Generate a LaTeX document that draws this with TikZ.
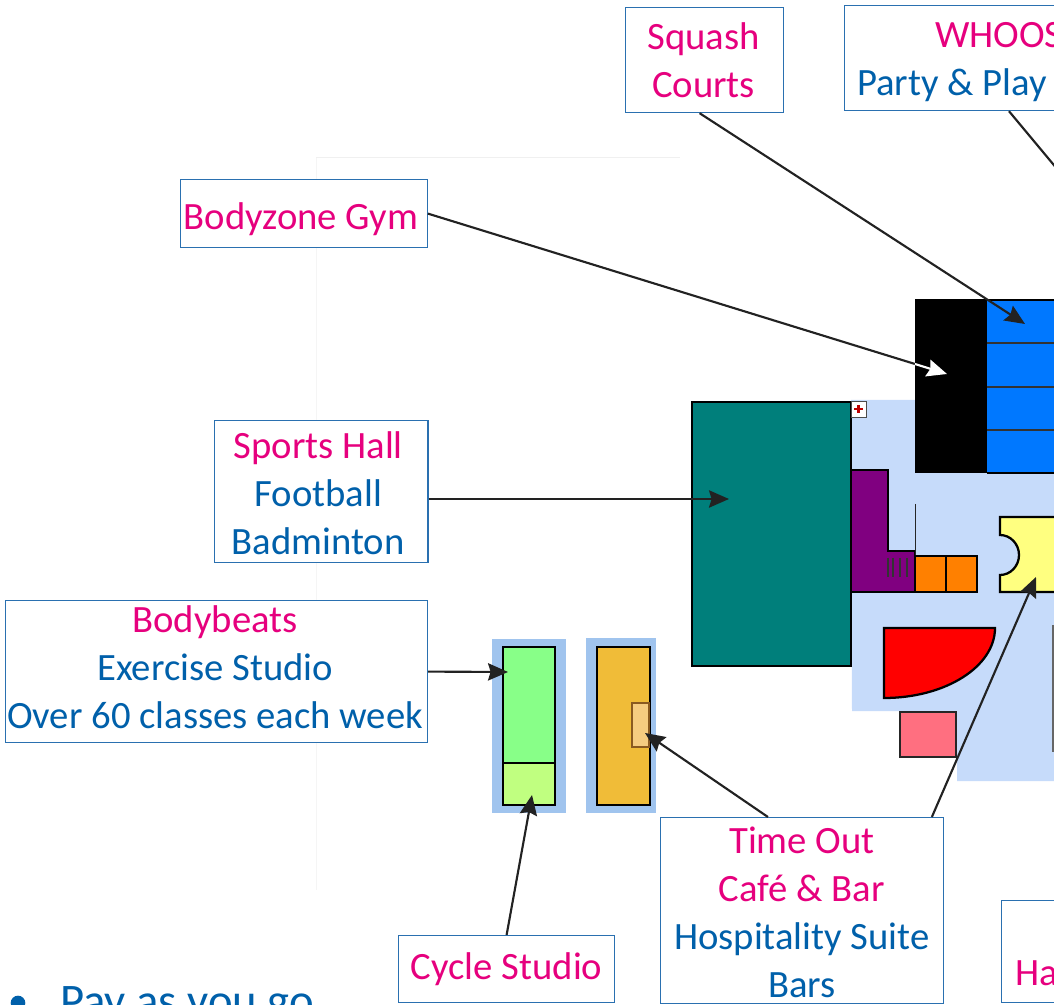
\documentclass[tikz,border=0pt]{standalone}
\usepackage{fontspec}
\setmainfont{Carlito}
\usetikzlibrary{arrows.meta,calc}
\definecolor{pinktext}{HTML}{E6007E}
\definecolor{bluetext}{HTML}{0060AA}
\definecolor{boxline}{HTML}{2A70B0}
\definecolor{floorblue}{HTML}{C6DBFA}
\definecolor{studioblue}{HTML}{A0C4EE}
\definecolor{hallteal}{HTML}{007F7B}
\definecolor{courtblue}{HTML}{0078FF}
\definecolor{darkline}{HTML}{222222}
\definecolor{roompurple}{HTML}{800080}
\definecolor{roomorange}{HTML}{FF8000}
\definecolor{deskyellow}{HTML}{FFFF80}
\definecolor{cafepink}{HTML}{FF6F80}
\definecolor{studiogreen}{HTML}{88FF88}
\definecolor{cyclegreen}{HTML}{C0FF80}
\definecolor{studiogold}{HTML}{F0BC38}
\definecolor{barsand}{HTML}{F5CC80}
\definecolor{barline}{HTML}{8A5A20}
\tikzset{
  callout/.style={draw=boxline,line width=0.9pt,fill=white,inner sep=0pt,anchor=north west},
  boxtext/.style={align=center,font=\fontsize{29}{36}\selectfont,inner sep=0pt},
  cuttext/.style={boxtext,anchor=west},
  pointer/.style={->,>={Stealth[length=15pt,width=13pt,inset=2pt]},darkline,line width=1.6pt},
  room/.style={draw=black,line width=1.7pt},
  studioroom/.style={draw=black,line width=2.1pt}
}
\newcommand{\pk}[1]{\textcolor{pinktext}{#1}}
\newcommand{\bl}[1]{\textcolor{bluetext}{#1}}
\begin{document}
\begin{tikzpicture}[x=0.75pt,y=-0.75pt]
   \useasboundingbox (0,0) rectangle (1054,1005);
   \clip (0,0) rectangle (1054,1005);

    % faint page edges
    \draw[black!4,line width=0.7pt] (316,890) -- (316,157);
    \draw[black!6,line width=0.7pt] (316,157) -- (680,157);

    % floor behind the rooms
    \fill[floorblue] (851,400) -- (915,400) -- (915,473) -- (1054,473) -- (1054,781) -- (957,781) -- (957,711) -- (852,711) -- cycle;

    % sports hall
    \draw[room,fill=hallteal] (692,402) rectangle (851,666);
    \draw[black!70,fill=white,line width=0.5pt] (851,401) rectangle (866,417);
    \draw[red!75!black,line width=1.6pt] (854,409) -- (863,409);
    \draw[red!75!black,line width=1.6pt] (858.5,405) -- (858.5,413);

    % gym and squash courts
    \fill[black] (915,300) rectangle (987,473);
    \fill[courtblue] (987,300) rectangle (1054,473);
    \draw[black,line width=1pt] (915,300) -- (1054,300);
    \draw[black,line width=1.2pt] (987,473) -- (1054,473);
    \foreach \y in {343,387,430}
        \draw[black!80,line width=1.2pt] (987,\y) -- (1054,\y);

    % changing rooms
    \draw[room,fill=roompurple] (851,470) -- (888,470) -- (888,551) -- (915,551) -- (915,592) -- (851,592) -- cycle;
    \foreach \x in {888,893,900,907}
        \draw[black!80,line width=1.3pt] (\x,558) -- (\x,577);
    \draw[black!85,line width=1pt] (915.5,504) -- (915.5,555);
    \draw[room,fill=roomorange] (915,556) rectangle (946,592);
    \draw[room,fill=roomorange] (946,556) rectangle (977,592);

    % reception desk
    \draw[room,fill=deskyellow] (1056,517) -- (1000,517) -- (1000,535) arc (-90:90:19 and 20) -- (1000,592) -- (1056,592);

    % cafe corner
    \draw[room,fill=red] (884,628) -- (995,628) arc (0:90:111 and 70) -- cycle;
    \draw[black!85,fill=cafepink,line width=1.2pt] (900,712) rectangle (956,757);
    \draw[black!60,line width=1.2pt] (1053,625) -- (1053,752);

    % studios
    \fill[studioblue] (492,639) rectangle (566,813);
    \draw[studioroom,fill=studiogreen] (503,647) rectangle (555,763);
    \draw[studioroom,fill=cyclegreen] (503,763) rectangle (555,805);
    \fill[studioblue] (586,638) rectangle (656,813);
    \draw[studioroom,fill=studiogold] (597,647) rectangle (650,805);
    \draw[barline,fill=barsand,line width=1pt] (632,703) rectangle (649,747);

    % label boxes
    \node[callout,minimum width=118.5pt,minimum height=78.75pt] (squash) at (625,7) {};
    \node[callout,minimum width=300pt,minimum height=78.75pt] (whoosh) at (844,5) {};
    \node[callout,minimum width=185pt,minimum height=51pt] (bodyzone) at (180,179) {};
    \node[callout,minimum width=160pt,minimum height=106.5pt] (sports) at (214,420) {};
    \node[callout,minimum width=316.5pt,minimum height=106.5pt] (bodybeats) at (5,600) {};
    \node[callout,minimum width=162pt,minimum height=50pt] (cycle) at (398,935) {};
    \node[callout,minimum width=212pt,minimum height=139.5pt] (timeout) at (660,817) {};
    \node[callout,minimum width=120pt,minimum height=76.5pt] (hall) at (1001,900) {};

    % label texts
    \node[boxtext] (squashtext) at ($(squash.center)+(-1,0)$) {\pk{Squash}\\\pk{Courts}};
    \node[cuttext,text=pinktext] (whooshname) at (935,35) {WHOOS};
    \node[cuttext,text=bluetext] (whooshplay) at (857,85) {Party \& Play};
    \node[boxtext] (bodyzonetext) at ($(bodyzone.center)+(-3,6)$) {\pk{Bodyzone Gym}};
    \node[boxtext] (sportstext) at ($(sports.center)+(-3,2)$) {\pk{Sports Hall}\\\bl{Football}\\\bl{Badminton}};
    \node[boxtext] (bodybeatstext) at ($(bodybeats.center)+(-1.5,-4)$) {\pk{Bodybeats}\\\bl{Exercise Studio}\\\bl{Over 60 classes each week}};
    \node[boxtext] (cycletext) at (cycle.center) {\pk{Cycle Studio}};
    \node[boxtext] (timeouttext) at ($(timeout.center)+(0,2)$) {\pk{Time Out}\\\pk{Café \& Bar}\\\bl{Hospitality Suite}\\\bl{Bars}};
    \node[cuttext,text=pinktext] (hallname) at (1015,973) {Ha};

    % bullet line, cut by the page edge
    \node[circle,fill=bluetext,inner sep=0pt,minimum size=11pt] (bullet) at (18,1003) {};
    \node[anchor=base west,font=\fontsize{35}{40}\selectfont,text=bluetext,inner sep=0pt] (payline) at (60,1016) {Pay as you go};

    % arrows
    \coordinate (squashtip) at (1025,324);
    \coordinate (whooshend) at (1058,170);
    \coordinate (gymedge) at (915,364);
    \coordinate (gymtip) at (947,374);
    \coordinate (halltip) at (729,499);
    \coordinate (beatstip) at (508,672);
    \coordinate (cycletip) at (532,795);
    \coordinate (barstip) at (645,733);
    \coordinate (desktip) at (1036,577);

    \draw[pointer] ($(squash.south)+(-5,0)$) -- (squashtip);
    \draw[darkline,line width=1.6pt] ($(whoosh.south west)+(165,0)$) -- (whooshend);
    \draw[darkline,line width=1.6pt] (bodyzone.east) -- (gymedge);
    \draw[pointer,white] (gymedge) -- (gymtip);
    \draw[pointer] (sports.east |- halltip) -- (halltip);
    \draw[pointer] (bodybeats.east) -- (beatstip);
    \draw[pointer] (cycle.north) -- (cycletip);
    \draw[pointer] ($(timeout.north)+(-34,0)$) -- (barstip);
    \draw[pointer] ($(timeout.north east)+(-12,0)$) -- (desktip);
\end{tikzpicture}
\end{document}
